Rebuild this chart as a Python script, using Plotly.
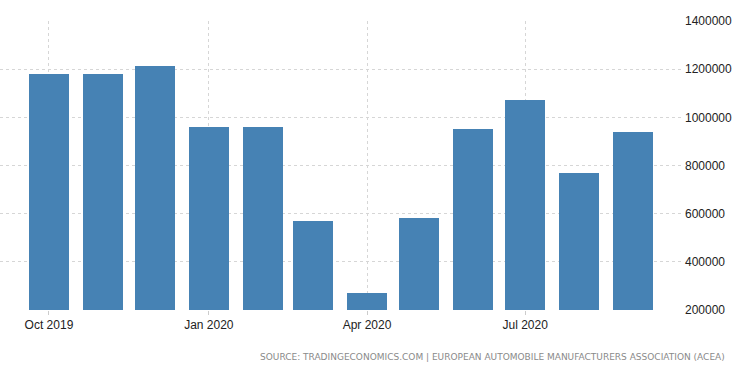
import plotly.graph_objects as go

months = ["2019-10-01", "2019-11-01", "2019-12-01", "2020-01-01", "2020-02-01", "2020-03-01",
          "2020-04-01", "2020-05-01", "2020-06-01", "2020-07-01", "2020-08-01", "2020-09-01"]
registrations = [1178000, 1178000, 1215000, 960000, 960000, 569000,
                 272000, 583000, 952000, 1073000, 769000, 938000]
y_ticks = [200000, 400000, 600000, 800000, 1000000, 1200000, 1400000]
source = "SOURCE: TRADINGECONOMICS.COM | EUROPEAN AUTOMOBILE MANUFACTURERS ASSOCIATION (ACEA)"

fig = go.Figure()
fig.add_trace(go.Bar(
    x=months, y=registrations,
    marker=dict(color="#4682B4", line=dict(width=0)),
    width=23 * 86400000,
))

grid = dict(showgrid=True, gridcolor="#d6d6d6", griddash="dot", gridwidth=1)
fig.update_layout(
    width=750, height=373,
    margin=dict(l=0, r=68, t=21, b=63),
    paper_bgcolor="white", plot_bgcolor="white",
    showlegend=False,
    bargap=0,
    font=dict(family="Liberation Sans, Arial, sans-serif", size=12, color="#222222"),
    xaxis=dict(
        type="date",
        range=["2019-09-02 20:00", "2020-09-29 06:00"],
        tick0="2019-10-01", dtick="M3", tickformat="%b %Y",
        ticks="outside", ticklen=4, tickcolor="#cccccc",
        showline=False, zeroline=False,
        **grid,
    ),
    yaxis=dict(
        side="right",
        range=[200000, 1400000],
        tickvals=y_ticks, ticktext=[str(v) for v in y_ticks],
        ticks="", showline=False, zeroline=False,
        ticklabelstandoff=2,
        **grid,
    ),
)
fig.add_annotation(
    text=source, xref="paper", yref="paper",
    x=1.0 + 45 / 682, y=-47 / 289, xanchor="right", yanchor="middle",
    showarrow=False,
    font=dict(family="DejaVu Sans, sans-serif", size=9, color="#8a8a8a"),
)
fig.write_html("out.html", config={"displayModeBar": False},
               post_script="document.body.style.margin='0';")
